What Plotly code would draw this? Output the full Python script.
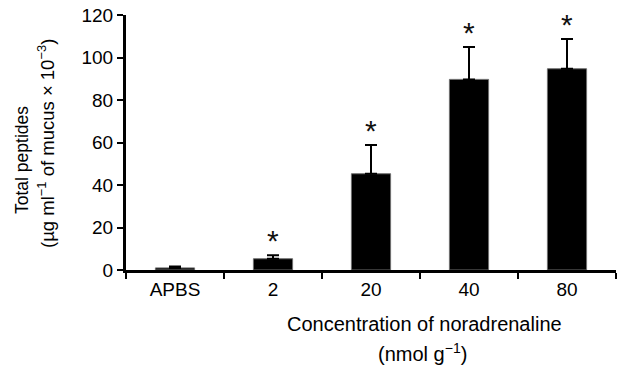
import plotly.graph_objects as go

categories = ["APBS", "2", "20", "40", "80"]
means = [1.0, 5.3, 45.3, 89.7, 94.7]
errors = [0.7, 1.6, 13.5, 15.2, 14.0]
signif = ["", "*", "*", "*", "*"]

FONT = "Liberation Sans, Arial, sans-serif"

fig = go.Figure()
fig.add_trace(go.Bar(
    x=categories, y=means, width=0.4,
    marker=dict(color="black", line=dict(color="#6e6e6e", width=1)),
    error_y=dict(type="data", array=errors, arrayminus=[0]*len(errors), symmetric=False,
                 color="black", thickness=2, width=6),
))

for i, (m, e, s) in enumerate(zip(means, errors, signif)):
    if s:
        fig.add_annotation(x=i, y=m + e, text=s, showarrow=False, xref="x", yref="y",
                           yanchor="bottom", yshift=-4,
                           font=dict(family=FONT, size=30, color="#111"))

W, H = 617, 367
L, R, T, B = 126, 1, 15, 97
pw, ph = W - L - R, H - T - B

def px(xp):
    return (xp - L) / pw

def py(yp):
    return (H - B - yp) / ph

fig.add_annotation(x=px(22), y=py(160), xref="paper", yref="paper", text="Total peptides",
                   textangle=-90, showarrow=False, xanchor="center", yanchor="middle",
                   font=dict(family=FONT, size=17.5, color="black"))
fig.add_annotation(x=px(46), y=py(144), xref="paper", yref="paper",
                   text="(µg ml<sup>−1</sup> of mucus × 10<sup>−3</sup>)",
                   textangle=-90, showarrow=False, xanchor="center", yanchor="middle",
                   font=dict(family=FONT, size=18.5, color="black"))
fig.add_annotation(x=px(424), y=py(324), xref="paper", yref="paper",
                   text="Concentration of noradrenaline",
                   showarrow=False, xanchor="center", yanchor="middle",
                   font=dict(family=FONT, size=20, color="black"))
fig.add_annotation(x=px(422), y=py(352), xref="paper", yref="paper",
                   text="(nmol g<sup>−1</sup>)",
                   showarrow=False, xanchor="center", yanchor="middle",
                   font=dict(family=FONT, size=20, color="black"))

fig.update_layout(
    width=W, height=H,
    margin=dict(l=L, r=R, t=T, b=B, pad=0),
    plot_bgcolor="white", paper_bgcolor="white",
    showlegend=False,
    font=dict(family=FONT, size=19, color="black"),
    bargap=0.6,
)
fig.update_xaxes(
    type="category", showline=True, linecolor="black", linewidth=3,
    ticks="outside", tickson="boundaries", ticklen=6, tickwidth=2, tickcolor="black",
    showgrid=False, zeroline=False, range=[-0.5, 4.5],
    tickfont=dict(family=FONT, size=19, color="black"),
)
fig.update_yaxes(
    range=[0, 120], tickvals=[0, 20, 40, 60, 80, 100, 120],
    showline=True, linecolor="black", linewidth=3,
    ticks="outside", ticklen=6, tickwidth=2, tickcolor="black",
    showgrid=False, zeroline=False,
    tickfont=dict(family=FONT, size=19, color="black"),
)

fig.write_html("out.html", config={"displayModeBar": False},
               post_script="document.body.style.margin='0';document.body.style.overflow='hidden';")
